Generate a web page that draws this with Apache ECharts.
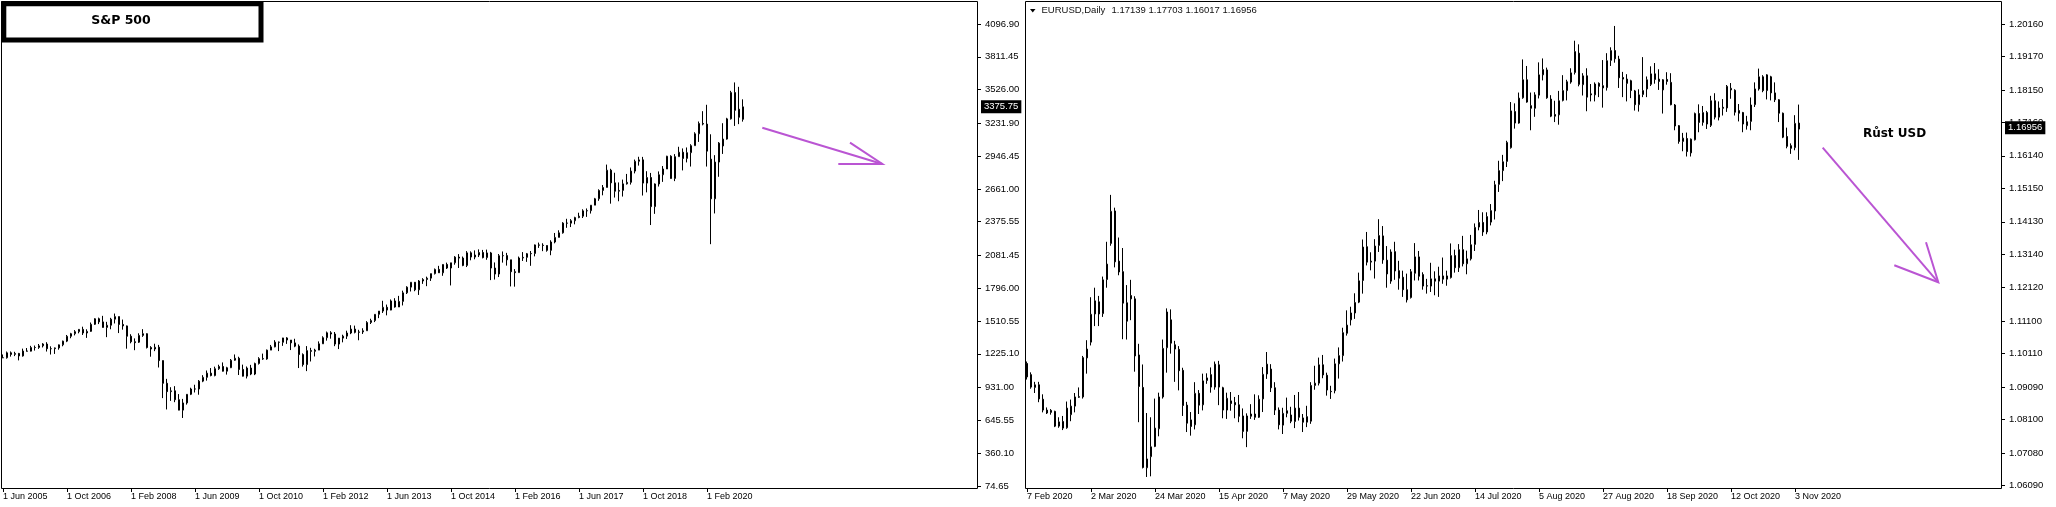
<!DOCTYPE html>
<html>
<head>
<meta charset="utf-8">
<script src="https://cdn.jsdelivr.net/npm/echarts@6.0.0/dist/echarts.min.js"></script>
<style>html,body{margin:0;padding:0;background:#fff;}#c{width:2056px;height:507px;}</style>
</head>
<body>
<div id="c"></div>
<script>
// ===== DATA =====
// S&P 500 monthly candles [open, high, low, close], Jun 2005 .. Nov 2020
const spxCandles = [
  // 2005 Jun-Dec
  [1191.5,1219.6,1188.3,1191.3],[1191.3,1245.2,1183.6,1234.2],[1234.2,1245.9,1201.1,1220.3],[1220.3,1243.1,1205.4,1228.8],
  [1228.8,1233.3,1168.2,1207.0],[1207.0,1270.6,1201.1,1249.5],[1249.5,1275.8,1246.6,1248.3],
  // 2006
  [1248.3,1294.9,1245.7,1280.1],[1280.1,1297.6,1253.6,1280.7],[1280.7,1310.9,1268.4,1294.9],[1294.9,1318.2,1280.7,1310.6],
  [1310.6,1326.7,1245.3,1270.1],[1270.1,1290.7,1219.3,1270.2],[1270.2,1280.4,1224.5,1276.7],[1276.7,1306.7,1261.3,1303.8],
  [1303.8,1340.3,1290.9,1335.9],[1335.9,1389.5,1327.1,1377.9],[1377.9,1407.9,1360.9,1400.6],[1400.6,1431.8,1385.9,1418.3],
  // 2007
  [1418.3,1441.6,1403.9,1438.2],[1438.2,1461.6,1389.4,1406.8],[1406.8,1438.9,1364.0,1420.9],[1420.9,1498.0,1416.4,1482.4],
  [1482.4,1535.6,1476.7,1530.6],[1530.6,1540.6,1484.2,1503.4],[1503.4,1555.9,1454.3,1455.3],[1455.3,1503.9,1370.6,1474.0],
  [1474.0,1538.7,1439.3,1526.8],[1526.8,1576.1,1489.6,1549.4],[1549.4,1549.4,1406.1,1481.1],[1481.1,1523.6,1435.7,1468.4],
  // 2008
  [1468.4,1471.8,1270.1,1378.6],[1378.6,1396.0,1316.8,1330.6],[1330.6,1359.7,1257.0,1322.7],[1326.4,1404.1,1320.0,1385.6],
  [1385.6,1440.2,1373.1,1400.4],[1400.4,1404.1,1272.0,1280.0],[1280.0,1292.2,1200.4,1267.4],[1267.4,1313.2,1248.6,1282.8],
  [1282.8,1303.0,1106.4,1166.4],[1166.4,1167.0,839.8,968.8],[968.8,1007.5,741.0,896.2],[896.2,934.7,815.7,903.3],
  // 2009
  [903.3,943.9,804.3,825.9],[825.9,875.0,734.5,735.1],[735.1,833.0,666.8,797.9],[797.9,875.0,783.3,872.8],
  [872.8,930.2,866.1,919.1],[919.1,956.2,888.9,919.3],[919.3,996.7,869.3,987.5],[987.5,1039.5,978.5,1020.6],
  [1020.6,1080.2,992.0,1057.1],[1057.1,1101.4,1029.4,1036.2],[1036.2,1113.7,1029.4,1095.6],[1095.6,1130.4,1085.9,1115.1],
  // 2010
  [1115.1,1150.4,1071.6,1073.9],[1073.9,1112.4,1044.5,1104.5],[1104.5,1180.2,1101.0,1169.4],[1169.4,1219.8,1165.0,1186.7],
  [1186.7,1200.0,1040.8,1089.4],[1089.4,1131.2,1028.3,1030.7],[1030.7,1115.0,1010.9,1101.6],[1101.6,1129.2,1039.7,1049.3],
  [1049.3,1148.7,1040.0,1141.2],[1141.2,1196.1,1131.9,1183.3],[1183.3,1227.1,1173.0,1180.6],[1180.6,1262.6,1173.8,1257.6],
  // 2011
  [1257.6,1302.7,1257.6,1286.1],[1286.1,1344.1,1282.0,1327.2],[1327.2,1332.3,1249.1,1325.8],[1325.8,1364.6,1294.7,1363.6],
  [1363.6,1370.6,1311.8,1345.2],[1345.2,1345.2,1258.1,1320.6],[1320.6,1356.5,1282.9,1292.3],[1292.3,1307.4,1101.5,1218.9],
  [1218.9,1229.3,1114.2,1131.4],[1131.4,1292.7,1074.8,1253.3],[1253.3,1277.6,1158.7,1247.0],[1247.0,1269.4,1202.4,1257.6],
  // 2012
  [1257.6,1333.5,1257.6,1312.4],[1312.4,1378.0,1312.4,1365.7],[1365.7,1419.2,1340.0,1408.5],[1408.5,1422.4,1357.4,1397.9],
  [1397.9,1415.3,1292.0,1310.3],[1310.3,1363.5,1266.7,1362.2],[1362.2,1391.7,1325.4,1379.3],[1379.3,1426.7,1354.7,1406.6],
  [1406.6,1474.5,1396.6,1440.7],[1440.7,1471.0,1403.3,1412.2],[1412.2,1434.3,1343.4,1416.2],[1416.2,1448.0,1398.1,1426.2],
  // 2013
  [1426.2,1509.9,1426.2,1498.1],[1498.1,1530.9,1485.0,1514.7],[1514.7,1570.3,1501.5,1569.2],[1569.2,1597.6,1536.0,1597.6],
  [1597.6,1687.2,1581.3,1630.7],[1630.7,1654.2,1560.3,1606.3],[1606.3,1698.8,1604.6,1685.7],[1685.7,1709.7,1627.5,1633.0],
  [1633.0,1729.9,1633.0,1681.6],[1681.6,1775.2,1646.5,1756.5],[1756.5,1813.6,1746.2,1805.8],[1805.8,1849.4,1768.0,1848.4],
  // 2014
  [1848.4,1850.8,1770.5,1782.6],[1782.6,1867.9,1737.9,1859.5],[1859.5,1884.0,1834.4,1872.3],[1872.3,1897.3,1814.4,1884.0],
  [1884.0,1924.0,1859.8,1923.6],[1923.6,1968.2,1916.0,1960.2],[1960.2,1991.4,1930.7,1930.7],[1930.7,2005.0,1904.8,2003.4],
  [2003.4,2019.3,1964.0,1972.3],[1972.3,2018.2,1820.7,2018.1],[2018.1,2075.8,2001.0,2067.6],[2067.6,2093.6,1972.6,2058.9],
  // 2015
  [2058.9,2072.4,1988.1,1995.0],[1995.0,2119.6,1980.9,2104.5],[2104.5,2117.5,2039.7,2067.9],[2067.9,2125.9,2048.4,2085.5],
  [2085.5,2134.7,2067.9,2107.4],[2107.4,2130.0,2056.3,2063.1],[2063.1,2132.8,2044.0,2103.8],[2103.8,2112.7,1867.0,1972.2],
  [1972.2,2020.9,1871.9,1920.0],[1920.0,2094.3,1893.7,2079.4],[2079.4,2116.5,2019.4,2080.4],[2080.4,2104.3,1993.3,2043.9],
  // 2016
  [2043.9,2043.9,1812.3,1940.2],[1940.2,1963.0,1810.1,1932.2],[1932.2,2072.2,1932.2,2059.7],[2059.7,2111.1,2033.8,2065.3],
  [2065.3,2103.5,2025.9,2097.0],[2097.0,2120.6,1991.7,2098.9],[2098.9,2177.1,2074.0,2173.6],[2173.6,2193.8,2147.6,2171.0],
  [2171.0,2187.9,2119.1,2168.3],[2168.3,2169.6,2114.7,2126.2],[2126.2,2214.1,2083.8,2198.8],[2198.8,2277.5,2187.4,2238.8],
  // 2017
  [2238.8,2301.0,2238.8,2278.9],[2278.9,2371.5,2271.7,2363.6],[2363.6,2401.0,2322.3,2362.7],[2362.7,2398.2,2329.0,2384.2],
  [2384.2,2418.7,2352.7,2411.8],[2411.8,2453.8,2405.7,2423.4],[2423.4,2484.0,2407.7,2470.3],[2470.3,2490.9,2417.4,2471.7],
  [2471.7,2519.4,2446.6,2519.4],[2519.4,2583.0,2519.4,2575.3],[2575.3,2657.7,2557.5,2647.6],[2647.6,2695.0,2605.5,2673.6],
  // 2018
  [2673.6,2872.9,2673.6,2823.8],[2823.8,2836.0,2532.7,2713.8],[2713.8,2801.9,2585.9,2640.9],[2640.9,2717.5,2553.8,2648.1],
  [2648.1,2742.2,2594.6,2705.3],[2705.3,2791.5,2698.9,2718.4],[2718.4,2848.0,2698.9,2816.3],[2816.3,2916.5,2796.3,2901.5],
  [2901.5,2940.9,2864.1,2914.0],[2914.0,2939.9,2603.5,2711.7],[2711.7,2815.2,2631.1,2760.2],[2760.2,2800.2,2346.6,2506.9],
  // 2019
  [2506.9,2709.0,2444.0,2704.1],[2704.1,2813.5,2681.8,2784.5],[2784.5,2860.3,2722.3,2834.4],[2834.4,2949.5,2834.4,2945.8],
  [2945.8,2954.1,2750.5,2752.1],[2752.1,2964.2,2728.8,2941.8],[2941.8,3028.0,2941.8,2980.4],[2980.4,3013.6,2822.1,2926.5],
  [2926.5,3022.0,2891.9,2976.7],[2976.7,3050.1,2855.9,3037.6],[3037.6,3154.3,3037.6,3141.0],[3141.0,3247.9,3070.3,3230.8],
  // 2020 Jan-Nov
  [3230.8,3337.8,3214.6,3225.5],[3225.5,3393.5,2855.8,2990.0],[2920.0,3136.7,2180.0,2575.0],[2575.0,2954.9,2447.5,2895.0],
  [2895.0,3068.7,2766.6,3060.0],[3035.0,3233.1,2965.7,3095.0],[3095.0,3280.0,3090.0,3271.0],[3271.0,3514.8,3265.0,3500.0],
  [3500.0,3588.1,3209.5,3345.0],[3355.0,3549.9,3225.0,3285.0],[3267.0,3441.0,3247.0,3375.75]
];

// EURUSD daily candles [open, high, low, close], 7 Feb 2020 .. 4 Nov 2020 (weekdays)
const eurCandles = [
  // Feb
  [1.0981,1.0987,1.0932,1.0940],[1.0947,1.0954,1.0904,1.0909],[1.0908,1.0925,1.0891,1.0916],[1.0916,1.0925,1.0863,1.0873],
  [1.0872,1.0887,1.0832,1.0839],[1.0839,1.0847,1.0827,1.0830],[1.0838,1.0842,1.0825,1.0832],[1.0835,1.0837,1.0787,1.0790],
  [1.0790,1.0817,1.0785,1.0803],[1.0804,1.0821,1.0778,1.0784],[1.0785,1.0865,1.0782,1.0845],[1.0825,1.0871,1.0805,1.0851],
  [1.0851,1.0891,1.0832,1.0879],[1.0878,1.0908,1.0876,1.0880],[1.0879,1.1004,1.0874,1.0999],[1.0998,1.1052,1.0950,1.1025],
  // Mar
  [1.1046,1.1183,1.1036,1.1131],[1.1132,1.1212,1.1095,1.1172],[1.1169,1.1187,1.1095,1.1132],[1.1133,1.1246,1.1123,1.1236],
  [1.1237,1.1352,1.1212,1.1284],[1.1347,1.1495,1.1340,1.1445],[1.1446,1.1456,1.1274,1.1291],[1.1293,1.1365,1.1250,1.1260],
  [1.1261,1.1333,1.1055,1.1165],[1.1166,1.1220,1.1054,1.1110],[1.1188,1.1236,1.1113,1.1178],[1.1178,1.1186,1.0956,1.1004],
  [1.1007,1.1041,1.0802,1.0911],[1.0908,1.0978,1.0661,1.0664],[1.0663,1.0830,1.0635,1.0690],[1.0697,1.0817,1.0637,1.0727],
  [1.0728,1.0874,1.0726,1.0784],[1.0782,1.0892,1.0759,1.0879],[1.0879,1.1054,1.0874,1.1027],[1.1029,1.1149,1.0953,1.1138],
  [1.1114,1.1146,1.1011,1.1043],[1.1038,1.1050,1.0925,1.1025],
  // Apr
  [1.1024,1.1034,1.0899,1.0959],[1.0960,1.0968,1.0821,1.0853],[1.0854,1.0864,1.0772,1.0799],[1.0809,1.0833,1.0761,1.0789],
  [1.0794,1.0924,1.0780,1.0890],[1.0890,1.0900,1.0827,1.0854],[1.0855,1.0950,1.0838,1.0928],[1.0929,1.0951,1.0919,1.0937],
  [1.0947,1.0969,1.0892,1.0909],[1.0909,1.0987,1.0901,1.0979],[1.0977,1.0989,1.0854,1.0909],[1.0907,1.0910,1.0814,1.0839],
  [1.0839,1.0892,1.0812,1.0875],[1.0867,1.0894,1.0837,1.0859],[1.0862,1.0879,1.0814,1.0855],[1.0855,1.0885,1.0802,1.0820],
  [1.0821,1.0844,1.0753,1.0774],[1.0774,1.0829,1.0726,1.0821],[1.0820,1.0857,1.0812,1.0827],[1.0827,1.0887,1.0809,1.0817],
  [1.0817,1.0884,1.0815,1.0872],[1.0873,1.0970,1.0833,1.0948],
  // May
  [1.0949,1.1016,1.0934,1.0979],[1.0964,1.0979,1.0894,1.0907],[1.0907,1.0924,1.0824,1.0839],[1.0839,1.0847,1.0780,1.0794],
  [1.0793,1.0846,1.0766,1.0829],[1.0829,1.0877,1.0817,1.0837],[1.0824,1.0849,1.0799,1.0805],[1.0804,1.0885,1.0784,1.0845],
  [1.0845,1.0894,1.0807,1.0817],[1.0815,1.0827,1.0772,1.0802],[1.0802,1.0852,1.0787,1.0819],[1.0805,1.0924,1.0797,1.0914],
  [1.0914,1.0974,1.0901,1.0921],[1.0921,1.0999,1.0914,1.0977],[1.0977,1.1007,1.0936,1.0946],[1.0945,1.0953,1.0883,1.0900],
  [1.0896,1.0913,1.0873,1.0895],[1.0898,1.0996,1.0890,1.0980],[1.0980,1.1030,1.0935,1.1005],[1.1005,1.1090,1.0987,1.1075],
  [1.1073,1.1143,1.1066,1.1098],
  // Jun
  [1.1114,1.1154,1.1097,1.1135],[1.1135,1.1195,1.1117,1.1167],[1.1168,1.1258,1.1165,1.1233],[1.1234,1.1359,1.1194,1.1336],
  [1.1337,1.1382,1.1280,1.1290],[1.1290,1.1320,1.1265,1.1293],[1.1293,1.1360,1.1240,1.1339],[1.1341,1.1421,1.1321,1.1371],
  [1.1370,1.1400,1.1285,1.1297],[1.1296,1.1339,1.1212,1.1254],[1.1232,1.1329,1.1224,1.1321],[1.1322,1.1352,1.1236,1.1263],
  [1.1264,1.1294,1.1206,1.1241],[1.1244,1.1264,1.1184,1.1206],[1.1206,1.1255,1.1167,1.1175],[1.1182,1.1269,1.1179,1.1261],
  [1.1256,1.1348,1.1234,1.1306],[1.1306,1.1324,1.1234,1.1247],[1.1252,1.1259,1.1206,1.1217],[1.1218,1.1239,1.1194,1.1217],
  [1.1217,1.1288,1.1199,1.1239],[1.1239,1.1262,1.1189,1.1232],
  // Jul
  [1.1232,1.1276,1.1184,1.1248],[1.1248,1.1304,1.1224,1.1238],[1.1238,1.1264,1.1218,1.1248],[1.1243,1.1347,1.1240,1.1310],
  [1.1310,1.1328,1.1258,1.1273],[1.1273,1.1345,1.1260,1.1328],[1.1328,1.1370,1.1277,1.1285],[1.1285,1.1325,1.1253,1.1300],
  [1.1300,1.1373,1.1295,1.1343],[1.1344,1.1408,1.1324,1.1396],[1.1397,1.1449,1.1387,1.1411],[1.1411,1.1442,1.1370,1.1382],
  [1.1382,1.1442,1.1375,1.1429],[1.1412,1.1467,1.1402,1.1447],[1.1446,1.1538,1.1420,1.1526],[1.1527,1.1599,1.1504,1.1569],
  [1.1569,1.1617,1.1537,1.1596],[1.1597,1.1660,1.1580,1.1655],[1.1639,1.1778,1.1636,1.1751],[1.1749,1.1774,1.1697,1.1714],
  [1.1714,1.1807,1.1712,1.1790],[1.1791,1.1908,1.1788,1.1846],[1.1846,1.1888,1.1776,1.1778],
  // Aug
  [1.1767,1.1807,1.1692,1.1759],[1.1759,1.1808,1.1733,1.1800],[1.1799,1.1899,1.1789,1.1861],[1.1861,1.1911,1.1844,1.1877],
  [1.1876,1.1883,1.1788,1.1791],[1.1787,1.1799,1.1732,1.1735],[1.1740,1.1782,1.1717,1.1735],[1.1739,1.1812,1.1709,1.1782],
  [1.1783,1.1860,1.1780,1.1813],[1.1813,1.1846,1.1783,1.1840],[1.1839,1.1881,1.1834,1.1867],[1.1868,1.1965,1.1862,1.1932],
  [1.1927,1.1954,1.1826,1.1832],[1.1831,1.1866,1.1798,1.1858],[1.1858,1.1881,1.1750,1.1793],[1.1803,1.1833,1.1780,1.1800],
  [1.1800,1.1838,1.1780,1.1833],[1.1835,1.1838,1.1793,1.1826],[1.1821,1.1906,1.1761,1.1828],[1.1822,1.1927,1.1813,1.1904],
  [1.1905,1.1945,1.1888,1.1935],
  // Sep
  [1.1935,1.2010,1.1898,1.1910],[1.1909,1.1919,1.1821,1.1852],[1.1853,1.1870,1.1793,1.1848],[1.1848,1.1863,1.1780,1.1835],
  [1.1843,1.1846,1.1790,1.1813],[1.1812,1.1815,1.1752,1.1770],[1.1770,1.1817,1.1749,1.1800],[1.1801,1.1915,1.1793,1.1813],
  [1.1818,1.1856,1.1793,1.1846],[1.1832,1.1887,1.1827,1.1864],[1.1864,1.1897,1.1834,1.1847],[1.1848,1.1878,1.1815,1.1841],
  [1.1815,1.1848,1.1743,1.1846],[1.1847,1.1869,1.1831,1.1841],[1.1838,1.1866,1.1768,1.1770],[1.1769,1.1772,1.1692,1.1705],
  [1.1706,1.1708,1.1651,1.1658],[1.1658,1.1684,1.1628,1.1668],[1.1667,1.1685,1.1612,1.1627],[1.1623,1.1667,1.1612,1.1665],
  [1.1663,1.1746,1.1661,1.1743],[1.1743,1.1771,1.1686,1.1716],
  // Oct
  [1.1716,1.1766,1.1706,1.1746],[1.1746,1.1751,1.1696,1.1711],[1.1707,1.1797,1.1702,1.1782],[1.1782,1.1805,1.1725,1.1732],
  [1.1732,1.1780,1.1722,1.1760],[1.1762,1.1787,1.1737,1.1759],[1.1760,1.1830,1.1748,1.1826],[1.1815,1.1836,1.1788,1.1820],
  [1.1814,1.1817,1.1737,1.1747],[1.1752,1.1772,1.1719,1.1744],[1.1746,1.1748,1.1686,1.1711],[1.1706,1.1736,1.1694,1.1718],
  [1.1719,1.1792,1.1692,1.1769],[1.1770,1.1838,1.1763,1.1818],[1.1818,1.1880,1.1813,1.1855],[1.1855,1.1860,1.1808,1.1813],
  [1.1813,1.1863,1.1786,1.1861],[1.1855,1.1858,1.1783,1.1806],[1.1806,1.1838,1.1778,1.1785],[1.1785,1.1787,1.1717,1.1744],
  [1.1744,1.1746,1.1668,1.1671],[1.1673,1.1700,1.1637,1.1643],
  // Nov
  [1.1645,1.1652,1.1620,1.1637],[1.1639,1.1738,1.1631,1.1713],[1.17139,1.17703,1.16017,1.16956]
];

const spxTickLabels = ['1 Jun 2005','1 Oct 2006','1 Feb 2008','1 Jun 2009','1 Oct 2010','1 Feb 2012','1 Jun 2013',
  '1 Oct 2014','1 Feb 2016','1 Jun 2017','1 Oct 2018','1 Feb 2020'];
const eurTickLabels = ['7 Feb 2020','2 Mar 2020','24 Mar 2020','15 Apr 2020','7 May 2020','29 May 2020','22 Jun 2020',
  '14 Jul 2020','5 Aug 2020','27 Aug 2020','18 Sep 2020','12 Oct 2020','3 Nov 2020'];
const spxPriceTicks = [4096.90,3811.45,3526.00,3231.90,2946.45,2661.00,2375.55,2081.45,1796.00,1510.55,1225.10,931.00,645.55,360.10,74.65];
const eurPriceTicks = [1.20160,1.19170,1.18150,1.17160,1.16140,1.15150,1.14130,1.13140,1.12120,1.11100,1.10110,1.09090,1.08100,1.07080,1.06090];
const spxLast = 3375.75;
const eurLast = 1.16956;
const eurHeaderValues = ['1.17139','1.17703','1.16017','1.16956'];

// ===== CATEGORIES =====
const MON = ['Jan','Feb','Mar','Apr','May','Jun','Jul','Aug','Sep','Oct','Nov','Dec'];
const SLOTS = 244;
const spxMonths = [];
for (let i = 0; i < spxCandles.length; i++) {
  const k = 5 + i;
  spxMonths.push('1 ' + MON[k % 12] + ' ' + (2005 + Math.floor(k / 12)));
}
while (spxMonths.length < SLOTS) spxMonths.push('_' + spxMonths.length);
const eurDays = [];
let t = Date.UTC(2020, 1, 7);
while (eurDays.length < eurCandles.length) {
  const d = new Date(t);
  const wd = d.getUTCDay();
  if (wd !== 0 && wd !== 6) eurDays.push(d.getUTCDate() + ' ' + MON[d.getUTCMonth()] + ' ' + d.getUTCFullYear());
  t += 86400000;
}
while (eurDays.length < SLOTS) eurDays.push('_' + eurDays.length);

// ===== CHART =====
const FONT = '"Liberation Sans", Arial, sans-serif';
const toEc = rows => rows.map(r => [r[0], r[3], r[2], r[1]]);

function mkX(gi, cats, ticks) {
  const f = (idx, val) => ticks.indexOf(val) >= 0;
  return {
    type: 'category', gridIndex: gi, data: cats, boundaryGap: true,
    axisLine: { show: false },
    axisTick: { show: true, alignWithLabel: true, interval: f, length: 4, lineStyle: { color: '#000', width: 1 } },
    axisLabel: { show: true, interval: f, align: 'left', margin: 4, fontSize: 9, fontFamily: FONT, color: '#000' },
    splitLine: { show: false }
  };
}
function mkY(gi, min, max, ticks, dec) {
  return {
    type: 'value', gridIndex: gi, position: 'right', min: min, max: max,
    axisLine: { show: false },
    axisTick: { show: true, length: 4, customValues: ticks, lineStyle: { color: '#000', width: 1 } },
    axisLabel: { show: true, customValues: ticks, formatter: v => Number(v).toFixed(dec), margin: 8,
      fontSize: 9.5, fontFamily: FONT, color: '#000' },
    splitLine: { show: false }
  };
}
function mkSeries(gi, rows, last, dec) {
  return {
    type: 'candlestick', xAxisIndex: gi, yAxisIndex: gi, data: toEc(rows), barWidth: 2, clip: false,
    itemStyle: { color: '#fff', color0: '#000', borderColor: '#000', borderColor0: '#000', borderColorDoji: '#000', borderWidth: 1 },
    emphasis: { disabled: true },
    markLine: {
      silent: true, symbol: ['none', 'none'], animation: false, z: 10,
      lineStyle: { color: 'rgba(0,0,0,0)', width: 1, type: 'solid' },
      label: { show: true, position: 'end', opacity: 1, formatter: () => last.toFixed(dec), color: '#fff', backgroundColor: '#000',
        fontSize: 9.5, fontFamily: FONT, padding: [2, 3, 1, 3], distance: 4 },
      emphasis: { disabled: true },
      data: [{ yAxis: last }]
    }
  };
}

const PURPLE = '#BA55D3';
const option = {
  animation: false,
  backgroundColor: '#fff',
  grid: [
    { left: 1, top: 1, width: 976, height: 487, show: false, outerBoundsMode: 'none' },
    { left: 1025, top: 1, width: 976, height: 487, show: false, outerBoundsMode: 'none' }
  ],
  xAxis: [mkX(0, spxMonths, spxTickLabels), mkX(1, eurDays, eurTickLabels)],
  yAxis: [mkY(0, 57.2, 4297.1, spxPriceTicks, 2), mkY(1, 1.06014, 1.20861, eurPriceTicks, 5)],
  series: [mkSeries(0, spxCandles, spxLast, 2), mkSeries(1, eurCandles, eurLast, 5)],
  graphic: [
    { type: 'rect', z: 1, shape: { x: 1.5, y: 1.5, width: 976, height: 487 }, style: { fill: null, stroke: '#000', lineWidth: 1 } },
    { type: 'rect', z: 1, shape: { x: 1025.5, y: 1.5, width: 976, height: 487 }, style: { fill: null, stroke: '#000', lineWidth: 1 } },
    { type: 'rect', z: 100, shape: { x: 3.8, y: 3.8, width: 257.2, height: 36.2 }, style: { fill: '#fff', stroke: '#000', lineWidth: 5 } },
    { type: 'text', z: 101, x: 121, y: 21, style: { text: 'S&P 500', font: 'bold 12.5px "DejaVu Sans", sans-serif', fill: '#000',
      align: 'center', verticalAlign: 'middle', textAlign: 'center', textVerticalAlign: 'middle' } },
    { type: 'polygon', z: 100, shape: { points: [[1030, 9], [1035.5, 9], [1032.75, 12.5]] }, style: { fill: '#000' } },
    { type: 'text', z: 100, x: 1041.5, y: 10.5, style: { text: 'EURUSD,Daily', font: '9.5px ' + FONT, fill: '#111',
      verticalAlign: 'middle', textVerticalAlign: 'middle' } },
    { type: 'text', z: 100, x: 1111.5, y: 10.5, style: { text: eurHeaderValues.join(' '), font: '9.5px ' + FONT, fill: '#111',
      verticalAlign: 'middle', textVerticalAlign: 'middle' } },
    { type: 'polyline', z: 100, shape: { points: [[762.3, 127.7], [882.3, 164]] }, style: { stroke: PURPLE, lineWidth: 2, fill: null } },
    { type: 'polyline', z: 100, shape: { points: [[850, 142.7], [882.3, 164], [838.3, 164]] }, style: { stroke: PURPLE, lineWidth: 2, fill: null } },
    { type: 'polyline', z: 100, shape: { points: [[1822.7, 147.7], [1938.3, 282.3]] }, style: { stroke: PURPLE, lineWidth: 2, fill: null } },
    { type: 'polyline', z: 100, shape: { points: [[1926, 242.3], [1938.3, 282.3], [1894.3, 265.3]] }, style: { stroke: PURPLE, lineWidth: 2, fill: null } },
    { type: 'text', z: 100, x: 1894.5, y: 134, style: { text: 'Růst USD', font: 'bold 12px "DejaVu Sans", sans-serif', fill: '#000',
      align: 'center', verticalAlign: 'middle', textAlign: 'center', textVerticalAlign: 'middle' } }
  ]
};

const chart = echarts.init(document.getElementById('c'), null, { renderer: 'canvas' });
chart.setOption(option);
</script>
</body>
</html>
